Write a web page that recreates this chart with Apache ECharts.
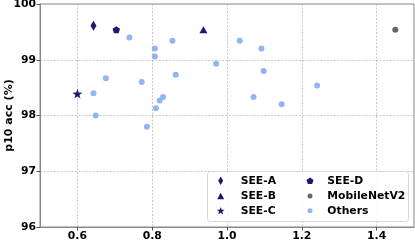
<!DOCTYPE html>
<html><head><meta charset="utf-8">
<script src="https://cdn.jsdelivr.net/npm/echarts@6/dist/echarts.min.js"></script>
<style>html,body{margin:0;padding:0;background:#fff}#c{width:415px;height:240px}</style>
</head><body><div id="c"></div>
<script>
const seeA = [[0.643, 99.61]];
const seeB = [[0.937, 99.54]];
const seeC = [[0.600, 98.39]];
const seeD = [[0.704, 99.54]];
const mobileNetV2 = [[1.450, 99.54]];
const others = [
  [0.739, 99.40], [0.807, 99.20], [0.807, 99.06], [0.854, 99.34], [0.676, 98.67],
  [0.772, 98.60], [0.643, 98.40], [0.863, 98.73], [0.829, 98.33], [0.820, 98.27],
  [0.810, 98.13], [0.649, 98.00], [0.786, 97.80], [0.971, 98.93], [1.034, 99.34],
  [1.092, 99.20], [1.098, 98.80], [1.241, 98.54], [1.071, 98.33], [1.146, 98.20]
];
const xMin = 0.5, xMax = 1.5, yMin = 96, yMax = 100, yStep = 1;

const NAVY = '#191970', GREY = '#666666', LIGHT = '#92b5f2';
const FONT = 'DejaVu Sans';
const DIAMOND = 'path://M0,-10 L6,0 L0,10 L-6,0 Z';
const STAR = 'path://M0,-10 L2.35,-3.24 L9.51,-3.09 L3.8,1.24 L5.88,8.09 L0,4 L-5.88,8.09 L-3.8,1.24 L-9.51,-3.09 L-2.35,-3.24 Z';
const PENT = 'path://M0,-10 L9.51,-3.09 L5.88,8.09 L-5.88,8.09 L-9.51,-3.09 Z';
const TRI = 'path://M0,-10 L10,8 L-10,8 Z';
const CIRC = 'circle';

const series = [
  {name:'SEE-A', data:seeA, symbol:DIAMOND, symbolSize:[6,10], color:NAVY},
  {name:'SEE-B', data:seeB, symbol:TRI, symbolSize:[8,7], color:NAVY},
  {name:'SEE-C', data:seeC, symbol:STAR, symbolSize:[10,9.5], color:NAVY},
  {name:'SEE-D', data:seeD, symbol:PENT, symbolSize:[7.5,7], color:NAVY},
  {name:'MobileNetV2', data:mobileNetV2, symbol:CIRC, symbolSize:6, color:GREY},
  {name:'Others', data:others, symbol:CIRC, symbolSize:6, color:LIGHT}
].map(s => ({type:'scatter', name:s.name, data:s.data, symbol:s.symbol, symbolSize:s.symbolSize,
  itemStyle:{color:s.color, opacity:1}, z:3}));

const legendItems = [
  {name:'SEE-A', icon:DIAMOND, w:5, h:8.5, cx:220.7, tx:240.7, cy:180.7},
  {name:'SEE-B', icon:TRI, w:7, h:6.3, cx:220.7, tx:240.7, cy:196},
  {name:'SEE-C', icon:STAR, w:8, h:7.6, cx:220.7, tx:240.7, cy:210.7},
  {name:'SEE-D', icon:PENT, w:7, h:6.6, cx:310, tx:327.3, cy:180.7},
  {name:'MobileNetV2', icon:CIRC, w:5, h:5, cx:310, tx:327.3, cy:196},
  {name:'Others', icon:CIRC, w:5, h:5, cx:310, tx:327.3, cy:210.7}
];
const LH = 14;
const legends = legendItems.map(it => ({
  show:true, orient:'horizontal', padding:0, z:5,
  left: it.cx - it.w/2, top: it.cy - LH/2,
  itemWidth: it.w, itemHeight: it.h, symbolKeepAspect:false,
  data:[{name:it.name, icon:it.icon}],
  textStyle:{fontFamily:FONT, fontWeight:'bold', fontSize:10.8, color:'#000', lineHeight:LH,
    padding:[0,0,0, (it.tx - it.cx - it.w/2 - 5)]},
  selectedMode:false
}));

const chart = echarts.init(document.getElementById('c'), null, {renderer:'canvas'});
chart.setOption({
  animation:false,
  backgroundColor:'#fff',
  grid:{left:40, right:1, top:4, bottom:13, containLabel:false, outerBoundsMode:'none',
    show:true, borderColor:'#888', borderWidth:1, backgroundColor:'transparent'},
  xAxis:{type:'value', min:xMin, max:xMax, splitNumber:5,
    axisLine:{show:true, lineStyle:{color:'#888', width:1}},
    axisTick:{show:true, length:3.5, lineStyle:{color:'#555'}},
    axisLabel:{showMinLabel:false, showMaxLabel:false, margin:4, color:'#000', fontFamily:FONT, fontWeight:'bold', fontSize:10.8,
      formatter:v => v.toFixed(1)},
    splitLine:{show:true, lineStyle:{color:'#bbb', type:[2,1.5], width:0.8}}
  },
  yAxis:{type:'value', min:yMin, max:yMax, interval:yStep,
    name:'p10 acc (%)', nameLocation:'middle', nameGap:25.5, nameMoveOverlap:false,
    nameTextStyle:{fontFamily:FONT, fontWeight:'bold', fontSize:11, color:'#000'},
    axisLine:{show:true, lineStyle:{color:'#888', width:1}},
    axisTick:{show:true, length:3.5, lineStyle:{color:'#555'}},
    axisLabel:{margin:4, color:'#000', fontFamily:FONT, fontWeight:'bold', fontSize:10.8},
    splitLine:{show:true, lineStyle:{color:'#bbb', type:[2,1.5], width:0.8}}
  },
  legend: legends,
  graphic:[{type:'rect', z:4, shape:{x:207.5, y:171.5, width:201, height:50, r:3},
    style:{fill:'rgba(255,255,255,0.85)', stroke:'#d6d6d6', lineWidth:1}}],
  series: series
});
</script></body></html>
